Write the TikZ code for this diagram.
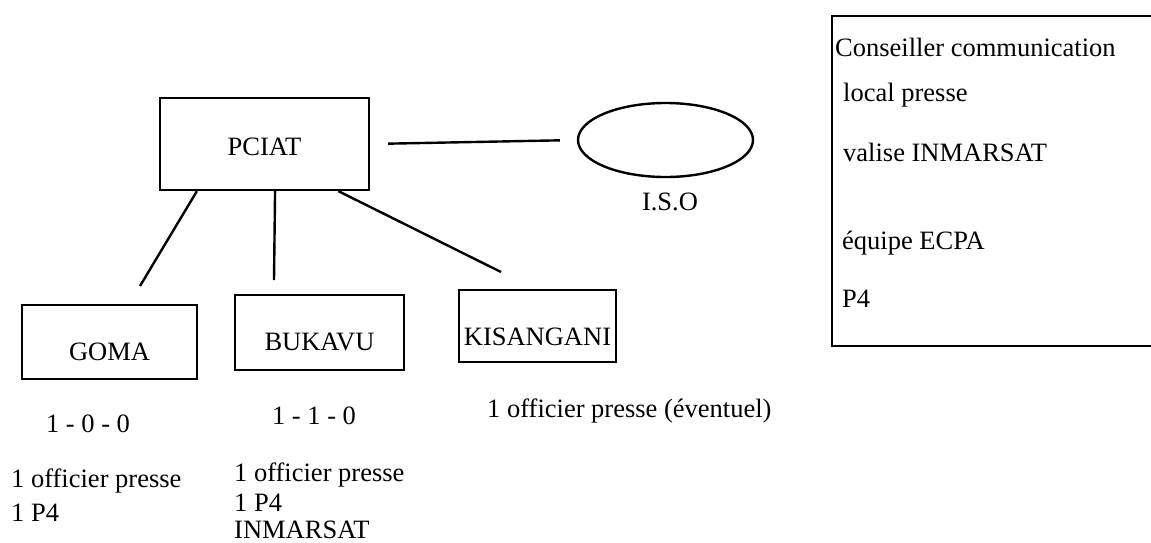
\documentclass[tikz,border=0pt]{standalone}
\usepackage{fontspec}
\setmainfont{Liberation Serif}
\usetikzlibrary{shapes.geometric,calc}
\begin{document}
\begin{tikzpicture}[x=1pt,y=-1pt,
  every node/.style={font=\fontsize{26.5}{31}\selectfont, inner sep=0pt},
  box/.style={draw, line width=2.4pt, rectangle},
  conn/.style={line width=2.4pt},
  lbl/.style={anchor=base west},
  clbl/.style={anchor=base}]
\useasboundingbox (0,0) rectangle (1151,542);
\clip (0,0) rectangle (1151,542);
% main boxes
\node[box, minimum width=209pt, minimum height=92pt,
      label={[yshift=-3pt]center:PCIAT}] (pciat) at (264.5,144) {};
\node[box, minimum width=175pt, minimum height=74pt,
      label={[yshift=-10pt]center:GOMA}] (goma) at (109.5,342) {};
\node[box, minimum width=169pt, minimum height=75pt,
      label={[yshift=-9pt]center:BUKAVU}] (bukavu) at (319.5,332.5) {};
\node[box, minimum width=157pt, minimum height=72pt,
      label={[yshift=-11pt]center:KISANGANI}] (kis) at (537.5,326) {};
\node[draw, ellipse, line width=2.4pt, minimum width=175pt, minimum height=74pt] (iso) at (665.5,140) {};
\node[clbl] (isolbl) at (670,210) {I.S.O};
% right panel
\node[box, minimum width=330pt, minimum height=330pt] (panel) at (997,181) {};
\node[lbl] (t1) at (835,56) {Conseiller communication};
\node[lbl] (t2) at (843,101) {local presse};
\node[lbl] (t3) at (843,161) {valise INMARSAT};
\node[lbl] (t4) at (842,249) {équipe ECPA};
\node[lbl] (t5) at (842,307) {P4};
% connectors
\coordinate (gEnd) at (140,286);
\coordinate (bEnd) at (274,280);
\coordinate (kEnd) at (501,272);
\draw[conn] ($(pciat.south west)!0.18!(pciat.south east)$) -- (gEnd);
\draw[conn] ($(pciat.south west)!0.55!(pciat.south east)$) -- (bEnd);
\draw[conn] ($(pciat.south west)!0.85!(pciat.south east)$) -- (kEnd);
\draw[conn, shorten <=18pt, shorten >=17pt] (pciat.east) -- (iso.west);
% labels under boxes
\node[clbl] (gcode) at (88,432) {1 - 0 - 0};
\node[clbl] (bcode) at (314,424) {1 - 1 - 0};
\node[lbl] (kinfo) at (487,417) {1 officier presse (éventuel)};
\node[lbl] (g1) at (11,487) {1 officier presse};
\node[lbl] (g2) at (11,521) {1 P4};
\node[lbl] (b1) at (234,481) {1 officier presse};
\node[lbl] (b2) at (234,511) {1 P4};
\node[lbl] (b3) at (234,538) {INMARSAT};
\end{tikzpicture}
\end{document}
